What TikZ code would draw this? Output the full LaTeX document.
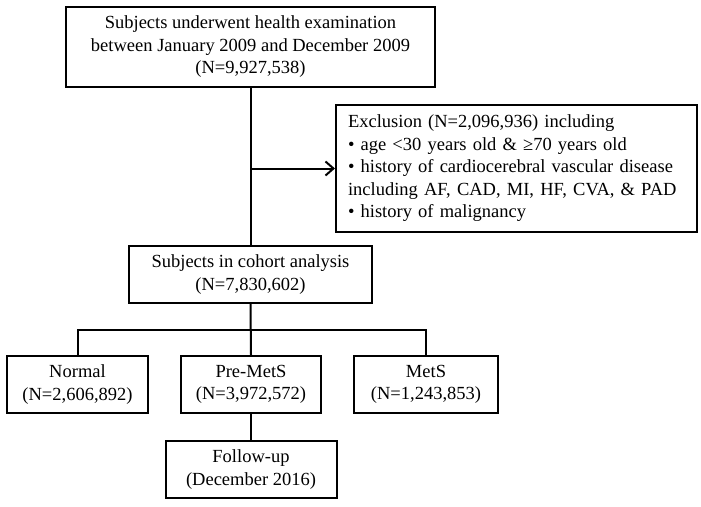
\documentclass[tikz,border=0pt]{standalone}
\usepackage{fontspec}
\setmainfont{Liberation Serif}
\usetikzlibrary{arrows.meta}
\begin{document}
\begin{tikzpicture}[x=1pt,y=-1pt,
  box/.style={draw, line width=2pt, inner sep=0pt, align=center,
    font=\fontsize{18.5}{22.5}\selectfont},
  conn/.style={line width=2pt},
]
\useasboundingbox (0,0) rectangle (701,506);
\node[box, minimum width=369pt, minimum height=80pt] (top) at (250.5,47)
  {Subjects underwent health examination\\between January 2009 and December 2009\\(N=9,927,538)};
\node[box, minimum width=361pt, minimum height=127pt, text width=337pt, align=left] (excl) at (516.5,168.5)
  {Exclusion (N=2,096,936) including\\
   • age <30 years old \& ≥70 years old\\
   • history of cardiocerebral vascular disease\\
   including AF, CAD, MI, HF, CVA, \& PAD\\
   • history of malignancy};
\node[box, minimum width=243pt, minimum height=57pt] (cohort) at (250.5,274.5)
  {Subjects in cohort analysis\\(N=7,830,602)};
\node[box, minimum width=141pt, minimum height=57pt] (normal) at (77.5,384.5)
  {Normal\\(N=2,606,892)};
\node[box, minimum width=140pt, minimum height=57pt] (premets) at (251,384.5)
  {Pre-MetS\\(N=3,972,572)};
\node[box, minimum width=144pt, minimum height=57pt] (mets) at (426,384.5)
  {MetS\\(N=1,243,853)};
\node[box, minimum width=171pt, minimum height=57pt] (follow) at (251,469.5)
  {Follow-up\\(December 2016)};
\coordinate (br) at (251,330);
\draw[conn] (top.south) -- (cohort.north);
\draw[conn, -{Straight Barb[length=8pt, width=14pt, line width=2pt]}] (top.south |- excl.west) -- (excl.west);
\draw[conn] (cohort.south) -- (premets.north);
\draw[conn] (normal.north) -- (normal.north |- br) -- (mets.north |- br) -- (mets.north);
\draw[conn] (premets.south) -- (follow.north);
\end{tikzpicture}
\end{document}
